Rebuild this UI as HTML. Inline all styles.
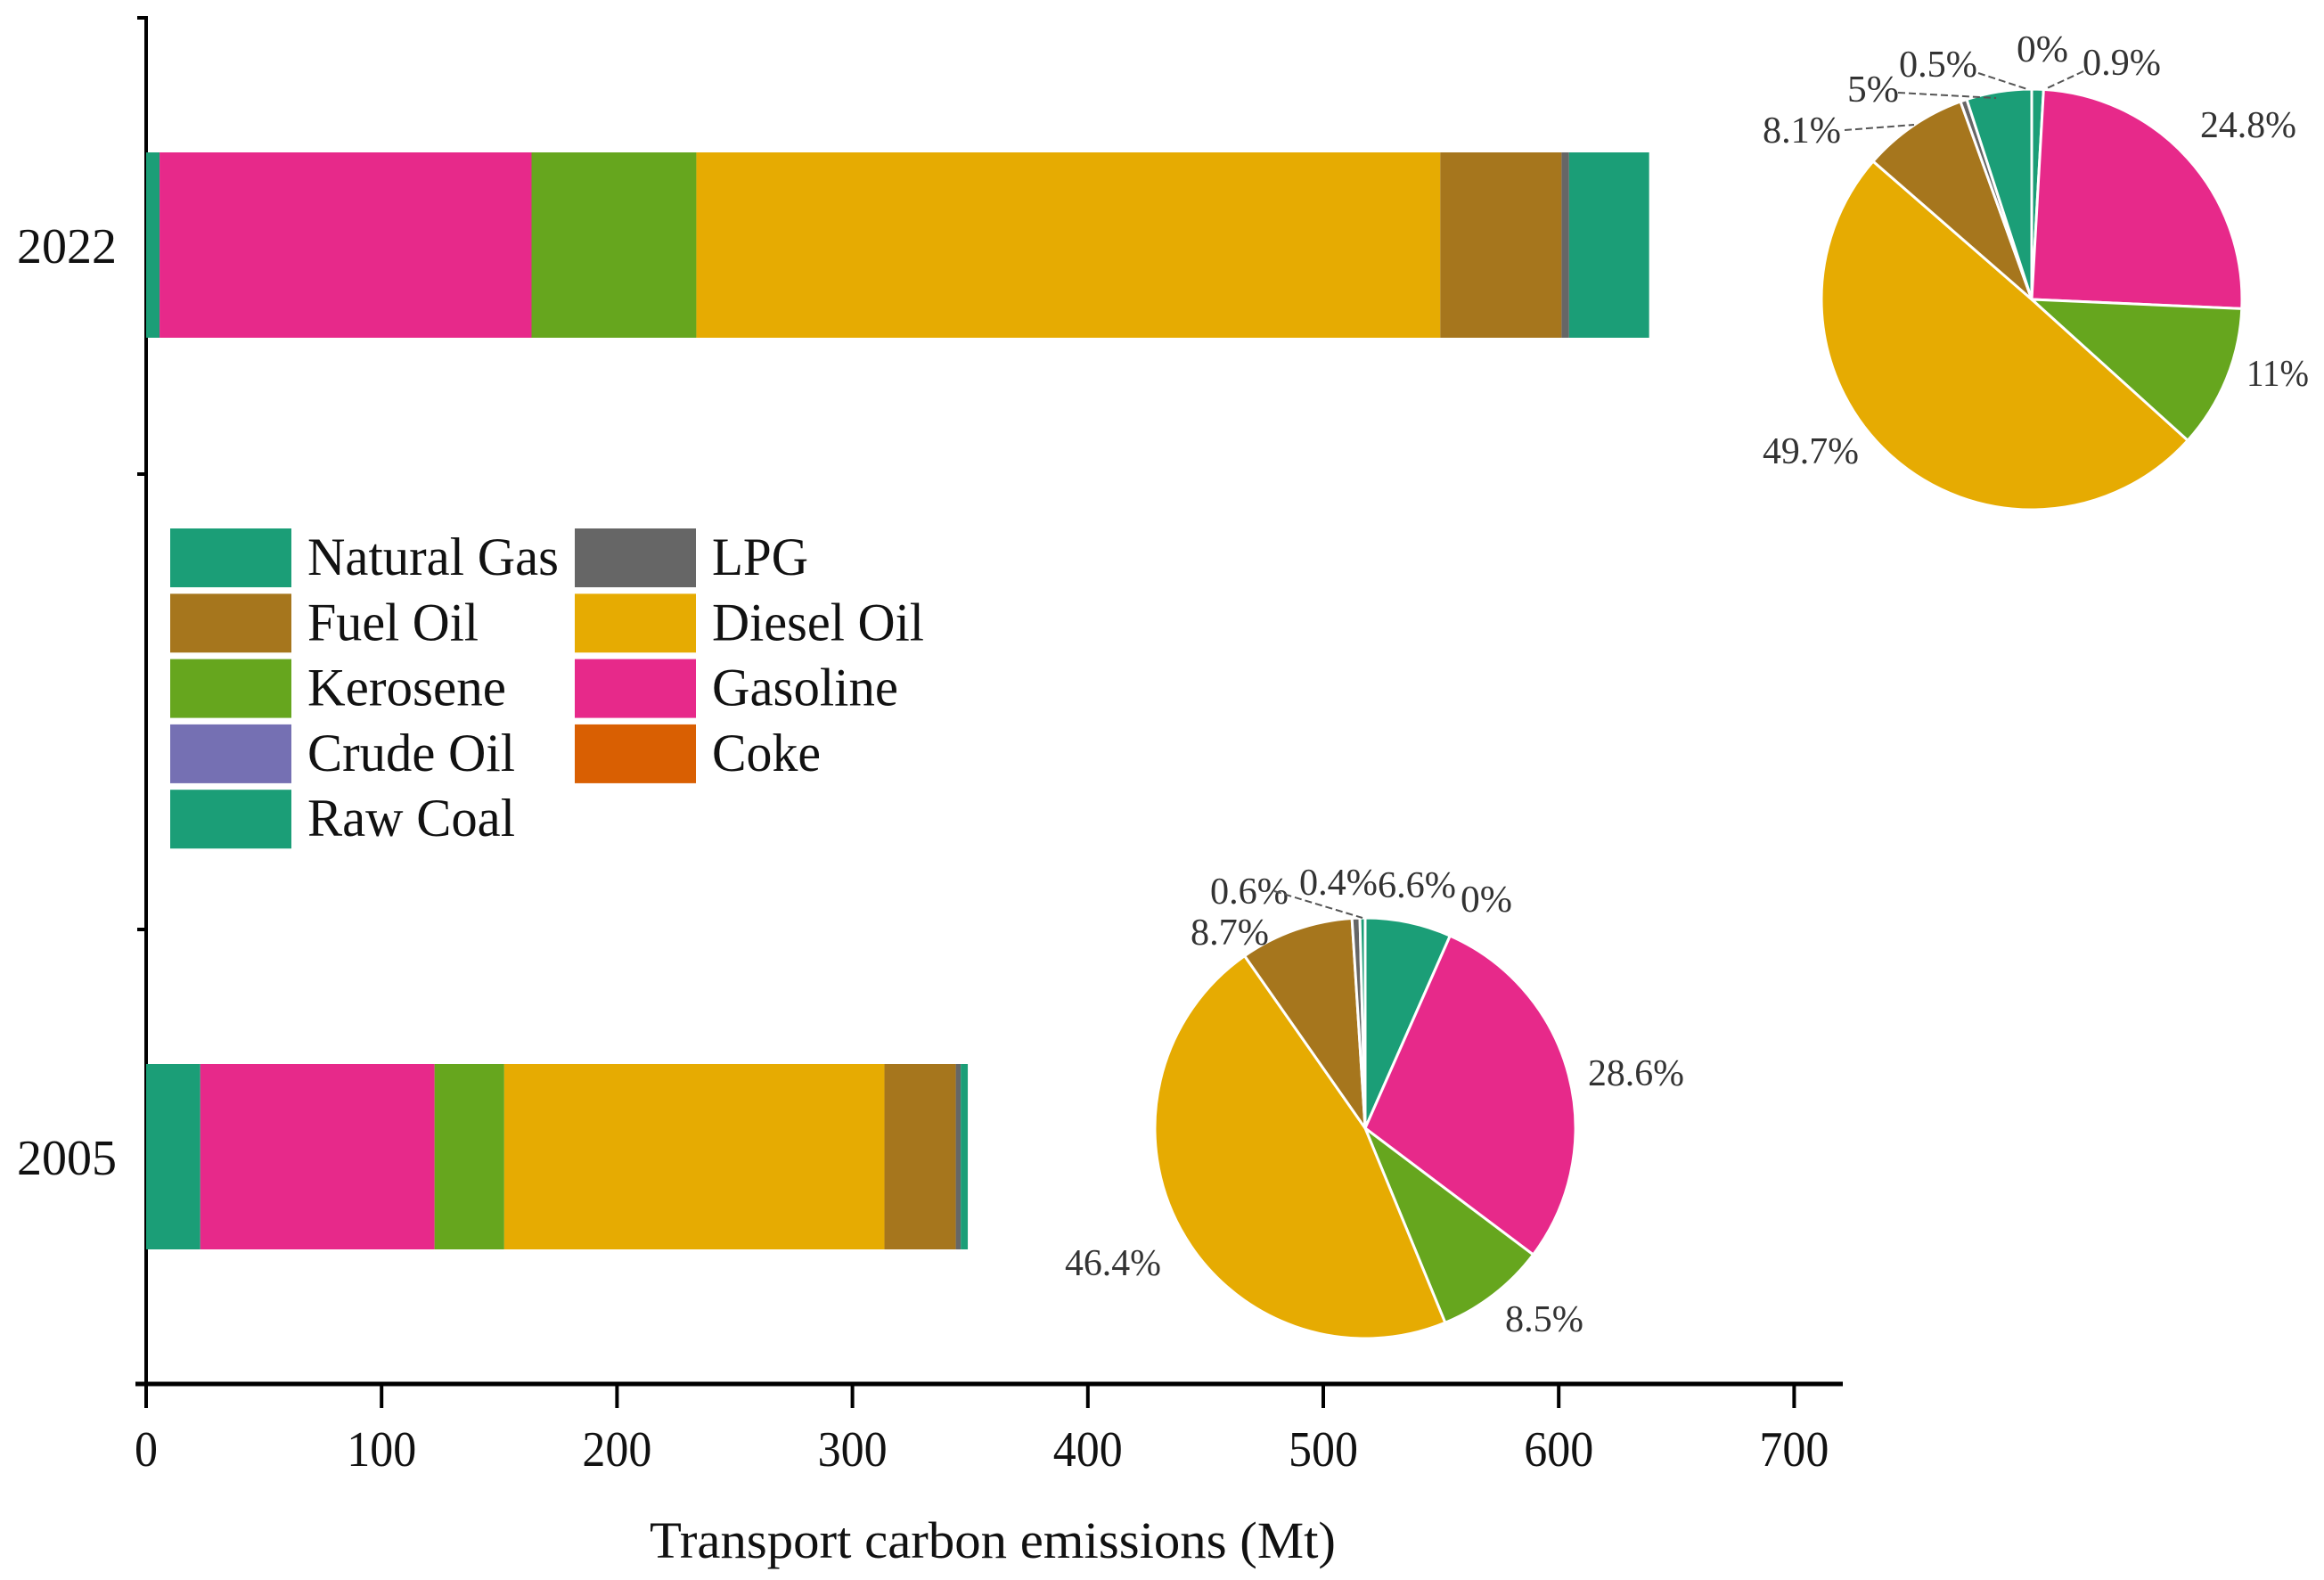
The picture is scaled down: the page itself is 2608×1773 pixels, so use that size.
<!DOCTYPE html>
<html><head><meta charset="utf-8"><style>
html,body{margin:0;padding:0;background:#fff;}
svg{display:block;font-family:"Liberation Serif",serif;}
</style></head><body>
<svg id="chart" width="2608" height="1773" viewBox="0 0 2608 1773" xmlns="http://www.w3.org/2000/svg">
<g id="axes"></g>
<g id="bars"></g>
<g id="pies"></g>
<g id="legend"></g>
</svg>
<script>
const NS="http://www.w3.org/2000/svg";
const years=["2022","2005"];
const fuels=["Natural Gas","Gasoline","Kerosene","Diesel Oil","Fuel Oil","LPG","Raw Coal","Crude Oil"];
const colors=["#1b9e77","#e7298a","#66a61e","#e6ab02","#a6761d","#666666","#1b9e77","#7570b3"];
const values2022=[5.7,158,70,316,51.5,3.2,34,0];
const values2005=[23,99.5,29.6,161.5,30.3,2.1,3,0];
const pie2022=[0.9,24.8,11,49.7,8.1,0.5,5,0];
const pie2005=[6.6,28.6,8.5,46.4,8.7,0.6,0.4,0];
const xTicks=[0,100,200,300,400,500,600,700];
const legendNames=["Natural Gas","Fuel Oil","Kerosene","Crude Oil","Raw Coal","LPG","Diesel Oil","Gasoline","Coke"];
const legendColors=["#1b9e77","#a6761d","#66a61e","#7570b3","#1b9e77","#666666","#e6ab02","#e7298a","#d95f02"];
const legendWidths=[282,192,223,233,233,108,238,209,122];

const X0=164, PX=2.642;
const xs=v=>X0+v*PX;
const yBand={"2022":[171,379],"2005":[1194,1402]};

function el(tag,attrs,parent){const e=document.createElementNS(NS,tag);for(const k in attrs)e.setAttribute(k,attrs[k]);parent.appendChild(e);return e;}
function txt(s,attrs,parent){const t=el("text",attrs,parent);t.textContent=s;return t;}

const axes=document.getElementById("axes");
let a=el("line",{x1:164,y1:20,x2:164,y2:1553,stroke:"#000","stroke-width":4},axes);


[20,532,1043,1553].forEach(y=>{
  const t=el("line",{x1:154,y1:y,x2:166,y2:y,stroke:"#000","stroke-width":4},axes);
  
  
});
a=el("line",{x1:152,y1:1553,x2:2068,y2:1553,stroke:"#000","stroke-width":5},axes);


xTicks.forEach(v=>{
  const t=el("line",{x1:xs(v),y1:1553,x2:xs(v),y2:1580,stroke:"#000","stroke-width":4},axes);
  
  
  const l=txt(String(v),{x:xs(v),y:1645,"text-anchor":"middle","font-size":56,textLength:String(v).length*26,lengthAdjust:"spacingAndGlyphs",fill:"#111"},axes);
  
  
});
a=txt("Transport carbon emissions (Mt)",{x:1114,y:1748,"text-anchor":"middle","font-size":58,textLength:770,lengthAdjust:"spacingAndGlyphs",fill:"#111"},axes);


years.forEach(y=>{
  const b=yBand[y];
  const l=txt(y,{x:75,y:(b[0]+b[1])/2+20,"text-anchor":"middle","font-size":56,textLength:112,lengthAdjust:"spacingAndGlyphs",fill:"#111"},axes);
  
  
});

const bars=document.getElementById("bars");
[[years[0],values2022],[years[1],values2005]].forEach(([yr,vals])=>{
  let acc=0;const b=yBand[yr];
  vals.forEach((v,i)=>{
    if(v<=0)return;
    const r=el("rect",{x:xs(acc),y:b[0],width:v*PX,height:b[1]-b[0],fill:colors[i]},bars);
    
    
    acc+=v;
  });
});

const pies=document.getElementById("pies");
function pie(vals,cx,cy,R,name){
  const g=el("g",{},pies);
  
  
  const tot=vals.reduce((s,v)=>s+v,0);let a0=-Math.PI/2;
  vals.forEach((v,i)=>{
    const a1=a0+v/tot*2*Math.PI;
    if(v>0){
      const large=(a1-a0)>Math.PI?1:0;
      const d=`M${cx},${cy} L${cx+R*Math.cos(a0)},${cy+R*Math.sin(a0)} A${R},${R} 0 ${large} 1 ${cx+R*Math.cos(a1)},${cy+R*Math.sin(a1)} Z`;
      const p=el("path",{d:d,fill:colors[i],stroke:"#fff","stroke-width":3},g);
      
      
    }
    a0=a1;
  });
  return g;
}
const g1=pie(pie2022,2280,336,236,"pie-2022");
const g2=pie(pie2005,1532,1266,236,"pie-2005");
function plabel(g,s,x,y,w){
  const t=txt(s,{x:x,y:y+14,"text-anchor":"middle","font-size":42,textLength:w,lengthAdjust:"spacingAndGlyphs",fill:"#333"},g);
  
  
}
const lbl22=[["0%",2292,55,58],["0.9%",2381,70,88],["0.5%",2175,72,88],["5%",2102,100,58],["8.1%",2022,146,88],["24.8%",2523,140,108],["11%",2556,419,70],["49.7%",2032,506,108]];
lbl22.forEach(l=>plabel(g1,...l));
const lbl05=[["0.6%",1402,1000,88],["0.4%",1502,990,88],["6.6%",1590,993,88],["0%",1668,1009,58],["8.7%",1380,1046,88],["28.6%",1836,1204,108],["46.4%",1249,1417,108],["8.5%",1733,1480,88]];
lbl05.forEach(l=>plabel(g2,...l));
[[2070,146,2148,140],[2130,104,2240,110],[2220,82,2275,100],[2338,80,2295,100],[1430,1000,1529,1030]].forEach(c=>{
  const ln=el("line",{x1:c[0],y1:c[1],x2:c[2],y2:c[3],stroke:"#555","stroke-width":2,"stroke-dasharray":"8,4"},pies);
  
  
});

const lg=document.getElementById("legend");
legendNames.forEach((n,i)=>{
  const col=i<5?0:1,row=i<5?i:i-5;
  const x=col?645:191,y=593+row*73.3;
  const g=el("g",{},lg);
  
  
  el("rect",{x:x,y:y,width:136,height:66,fill:legendColors[i]},g);
  txt(n,{x:x+154,y:y+52,"font-size":60,textLength:legendWidths[i],lengthAdjust:"spacingAndGlyphs",fill:"#111"},g);
});
</script>
</body></html>
